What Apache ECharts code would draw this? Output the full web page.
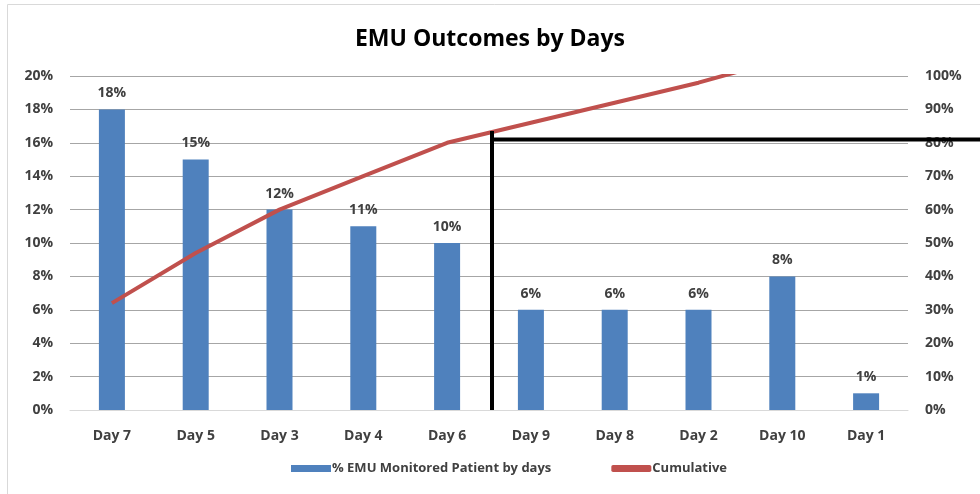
<!DOCTYPE html>
<html>
<head>
<meta charset="utf-8">
<script src="https://cdn.jsdelivr.net/npm/echarts@6/dist/echarts.min.js"></script>
<style>
  html, body { margin: 0; padding: 0; background: #fff; }
  #main { width: 980px; height: 494px; }
</style>
</head>
<body>
<div id="main"></div>
<script>
const days = ['Day 7', 'Day 5', 'Day 3', 'Day 4', 'Day 6', 'Day 9', 'Day 8', 'Day 2', 'Day 10', 'Day 1']
const percentByDay = [18, 15, 12, 11, 10, 6, 6, 6, 8, 1]
const cumulative = [32, 47, 60, 70, 80, 86, 92, 98, 105, 106]
// cut-off markers: between Day 6 and Day 9, at 81% cumulative
const cutAfterIndex = 4
const cutLevel = 81

const font = 'Open Sans, Liberation Sans, sans-serif'
const labelColor = '#404040'

const chartDom = document.getElementById('main')
const myChart = echarts.init(chartDom)

const option = {
  animation: false,
  title: {
    text: 'EMU Outcomes by Days',
    left: 'center',
    top: 23,
    textStyle: { fontFamily: font, fontSize: 23, fontWeight: 'bold', color: '#000' },
  },
  grid: { left: 70, right: 72, top: 76, bottom: 84 },
  legend: {
    bottom: 14,
    left: 286,
    itemGap: 60,
    itemWidth: 40,
    itemHeight: 7,
    textStyle: { fontFamily: font, fontSize: 13, fontWeight: 'bold', color: labelColor, padding: [0, 0, 0, -4] },
    data: [
      { name: '% EMU Monitored Patient by days', icon: 'rect' },
      { name: 'Cumulative', icon: 'roundRect' },
    ],
  },
  xAxis: {
    type: 'category',
    data: days,
    axisTick: { show: false },
    axisLine: { lineStyle: { color: '#d9d9d9', width: 1 } },
    axisLabel: { fontFamily: font, fontSize: 14, fontWeight: 'bold', color: labelColor, margin: 19 },
  },
  yAxis: [
    {
      type: 'value',
      min: 0,
      max: 20,
      interval: 2,
      axisLabel: { formatter: '{value}%', fontFamily: font, fontSize: 14, fontWeight: 'bold', color: labelColor, margin: 17 },
      splitLine: { lineStyle: { color: '#a6a6a6', width: 1 } },
      axisLine: { show: false },
      axisTick: { show: false },
    },
    {
      type: 'value',
      min: 0,
      max: 100,
      interval: 10,
      axisLabel: { formatter: '{value}%', fontFamily: font, fontSize: 14, fontWeight: 'bold', color: labelColor, margin: 17 },
      splitLine: { show: false },
      axisLine: { show: false },
      axisTick: { show: false },
    },
  ],
  series: [
    {
      name: '% EMU Monitored Patient by days',
      type: 'bar',
      data: percentByDay,
      barWidth: 26,
      itemStyle: { color: '#4f81bd' },
      label: {
        show: true,
        position: 'top',
        distance: 9,
        formatter: '{c}%',
        fontFamily: font,
        fontSize: 14,
        fontWeight: 'bold',
        color: labelColor,
      },
    },
    {
      name: 'Cumulative',
      type: 'line',
      yAxisIndex: 1,
      data: cumulative,
      symbol: 'none',
      clip: true,
      lineStyle: { color: '#c0504d', width: 4 },
      itemStyle: { color: '#c0504d' },
    },
  ],
}
option && myChart.setOption(option)

// position cut-off lines from the axes
const midX = (myChart.convertToPixel({ xAxisIndex: 0 }, cutAfterIndex) +
  myChart.convertToPixel({ xAxisIndex: 0 }, cutAfterIndex + 1)) / 2 + 3
const baseY = myChart.convertToPixel({ yAxisIndex: 1 }, 0)
const topY = myChart.convertToPixel({ yAxisIndex: 1 }, cutLevel + 2.5)
const levelY = myChart.convertToPixel({ yAxisIndex: 1 }, cutLevel)

myChart.setOption({
  graphic: [
    {
      type: 'rect',
      shape: { x: 7.5, y: 4.5, width: 1000, height: 1000 },
      style: { fill: 'none', stroke: '#d9d9d9', lineWidth: 1 },
      silent: true,
    },
    {
      type: 'line',
      shape: { x1: midX, y1: topY, x2: midX, y2: baseY },
      style: { stroke: '#000', lineWidth: 4 },
      z: 100,
    },
    {
      type: 'line',
      shape: { x1: midX - 2, y1: levelY, x2: 980, y2: levelY },
      style: { stroke: '#000', lineWidth: 4 },
      z: 100,
    },
  ],
})
</script>
</body>
</html>
